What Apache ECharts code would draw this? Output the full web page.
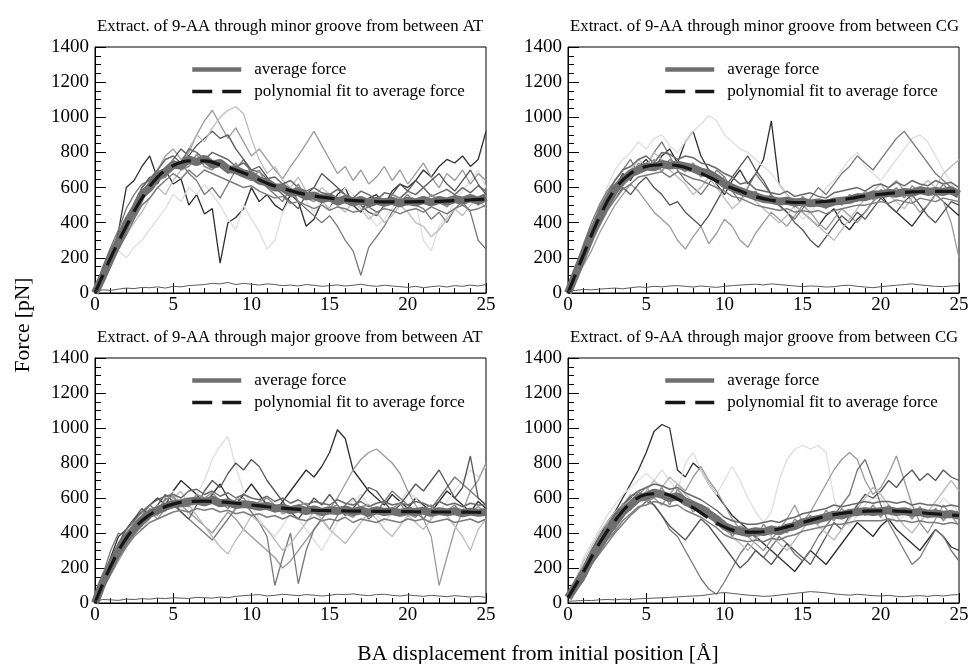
<!DOCTYPE html>
<html>
<head>
<meta charset="utf-8">
<script src="https://cdn.jsdelivr.net/npm/echarts@6/dist/echarts.min.js"></script>
<style>
  html, body { margin: 0; padding: 0; background: #fff; }
  #main { width: 972px; height: 664px; }
</style>
</head>
<body>
<div id="main"></div>
<script>
// sampling positions along the displacement axis [Å]
const xs = [0, 0.5, 1, 1.5, 2, 2.5, 3, 3.5, 4, 4.5, 5, 5.5, 6, 6.5, 7, 7.5, 8, 8.5, 9, 9.5,
  10, 10.5, 11, 11.5, 12, 12.5, 13, 13.5, 14, 14.5, 15, 15.5, 16, 16.5, 17, 17.5, 18, 18.5, 19, 19.5,
  20, 20.5, 21, 21.5, 22, 22.5, 23, 23.5, 24, 24.5, 25]
const fitXs = [0, 1, 2, 3, 4, 5, 6, 7, 8, 9, 10, 11, 12, 13, 14, 15, 16, 17, 18, 19, 20, 21, 22, 23, 24, 25]

const titles = [
  'Extract. of 9-AA through minor groove from between AT',
  'Extract. of 9-AA through minor groove from between CG',
  'Extract. of 9-AA through major groove from between AT',
  'Extract. of 9-AA through major groove from between CG'
]
const legendNames = ['average force', 'polynomial fit to average force']
const xTicks = [0, 5, 10, 15, 20, 25]
const yTicks = [0, 200, 400, 600, 800, 1000, 1200, 1400]

// --- minor groove, AT ---
const runsMinorAT = [
  [0, 80, 200, 350, 600, 640, 720, 780, 650, 700,
    620, 650, 500, 560, 450, 480, 170, 400, 430, 480,
    600, 520, 560, 500, 470, 560, 520, 380, 420, 520,
    480, 560, 600, 500, 460, 540, 560, 500, 580, 620,
    600, 640, 700, 660, 720, 760, 740, 780, 720, 760,
    920],
  [0, 60, 180, 240, 200, 260, 300, 360, 420, 480,
    560, 520, 600, 560, 620, 560, 500, 420, 360, 500,
    420, 350, 250, 300, 460, 540, 580, 520, 460, 520,
    480, 540, 600, 560, 500, 440, 380, 420, 480, 540,
    580, 520, 300, 240, 380, 440, 520, 580, 640, 700,
    600],
  [0, 120, 250, 330, 420, 500, 560, 620, 700, 780,
    820, 760, 800, 900, 980, 1040, 960, 880, 940, 860,
    780, 820, 760, 700, 650, 720, 780, 850, 920, 840,
    760, 680, 720, 640, 700, 620, 660, 720, 640, 700,
    620, 680, 740, 660, 600, 680, 640, 700, 620, 680,
    640],
  [0, 150, 260, 360, 480, 560, 620, 640, 700, 660,
    720, 740, 680, 640, 560, 600, 540, 620, 700, 760,
    680, 640, 600, 560, 520, 600, 520, 480, 440, 400,
    440, 380, 300, 240, 100, 260, 320, 380, 460, 520,
    560, 500, 480, 420, 460, 400, 480, 520, 460, 300,
    250],
  [0, 100, 200, 280, 380, 450, 600, 660, 620, 700,
    760, 820, 780, 840, 880, 920, 880, 900, 820, 760,
    700, 720, 660, 600, 560, 520, 480, 560, 600, 680,
    640, 600, 560, 520, 500, 460, 440, 500, 560, 620,
    580, 640, 600, 640, 680, 620, 580, 640, 700, 620,
    560],
  [0, 70, 160, 260, 330, 400, 460, 540, 600, 560,
    640, 700, 820, 900, 860, 940, 1000, 1040, 1060, 1020,
    880, 760, 680, 720, 640, 600, 660, 580, 540, 600,
    560, 500, 460, 520, 480, 420, 460, 400, 440, 500,
    460, 400, 380, 320, 360, 420, 480, 440, 500, 540,
    480]
]
// runs that stay close to the mean and make up the dense band
const bandMinorAT = [
  [0, 120, 230, 300, 430, 500, 600, 650, 700, 760,
    780, 740, 820, 800, 760, 800, 780, 760, 720, 740,
    700, 690, 650, 660, 620, 640, 600, 580, 600, 570,
    560, 590, 560, 540, 580, 560, 530, 570, 560, 540,
    580, 560, 600, 550, 570, 590, 560, 600, 570, 610,
    580],
  [0, 60, 150, 250, 330, 420, 500, 540, 600, 640,
    680, 650, 700, 660, 700, 680, 660, 640, 620, 600,
    610, 580, 560, 540, 550, 510, 520, 500, 480, 500,
    470, 490, 480, 460, 470, 490, 460, 480, 470, 450,
    470, 480, 460, 490, 470, 450, 480, 500, 470, 480,
    500],
  [0, 150, 160, 320, 380, 450, 540, 620, 640, 660,
    760, 700, 720, 790, 720, 700, 760, 680, 740, 660,
    640, 700, 600, 620, 580, 560, 620, 540, 520, 560,
    540, 500, 560, 520, 500, 540, 520, 490, 560, 540,
    500, 530, 510, 560, 520, 490, 540, 520, 560, 500,
    540]
]
const avgMinorAT = [0, 95, 200, 290, 395, 470, 560, 600, 665, 690,
  730, 725, 760, 745, 765, 730, 740, 705, 700, 680,
  670, 640, 630, 600, 600, 570, 575, 550, 555, 535,
  545, 520, 535, 515, 530, 510, 525, 515, 525, 510,
  525, 515, 530, 515, 530, 520, 535, 525, 540, 525,
  545]
const fitMinorAT = [0, 200, 380, 540, 660, 725, 752, 752, 730, 700, 665, 625, 595,
  570, 552, 540, 530, 524, 520, 519, 519, 520, 522, 526, 530, 535]
const baseMinorAT = [10, 18, 15, 22, 28, 25, 32, 30, 35, 28,
  38, 35, 42, 45, 48, 55, 52, 60, 48, 55,
  50, 45, 52, 48, 42, 45, 40, 48, 44, 38,
  42, 46, 40, 44, 50, 42, 38, 44, 40, 36,
  32, 38, 30, 36, 40, 34, 42, 38, 45, 40,
  48]

// --- minor groove, CG ---
const runsMinorCG = [
  [0, 90, 200, 310, 420, 520, 600, 680, 640, 720,
    760, 700, 780, 820, 740, 860, 920, 780, 700, 620,
    560, 640, 700, 620, 680, 760, 980, 620, 560, 500,
    460, 420, 380, 440, 480, 400, 360, 420, 460, 520,
    560, 500, 460, 420, 380, 440, 500, 560, 520, 480,
    440],
  [0, 130, 260, 380, 480, 600, 700, 760, 800, 860,
    820, 880, 900, 840, 800, 860, 920, 960, 1010, 980,
    900, 860, 820, 800, 760, 720, 680, 620, 560, 480,
    420, 460, 520, 600, 640, 700, 760, 800, 720, 680,
    640, 700, 760, 820, 880, 900, 860, 780, 700, 620,
    560],
  [0, 80, 160, 240, 340, 420, 500, 560, 620, 580,
    520, 460, 420, 380, 300, 250, 320, 380, 280, 340,
    420, 380, 300, 260, 340, 400, 460, 420, 380, 440,
    500, 460, 400, 360, 420, 480, 440, 400, 460, 520,
    560, 600, 640, 580, 520, 460, 500, 560, 520, 400,
    200],
  [0, 150, 280, 400, 500, 580, 640, 700, 760, 680,
    720, 800, 860, 780, 700, 640, 600, 560, 620, 700,
    660, 580, 520, 600, 680, 620, 560, 500, 460, 420,
    480, 540, 600, 560, 620, 680, 720, 780, 740, 700,
    760, 820, 880, 920, 860, 800, 740, 680, 640, 600,
    560],
  [0, 120, 240, 320, 400, 470, 540, 600, 560, 620,
    660, 600, 560, 500, 520, 460, 420, 380, 440, 520,
    600, 660, 720, 780, 700, 640, 560, 500, 460, 400,
    360, 300, 260, 320, 380, 440, 400, 460, 420, 480,
    540, 500, 460, 520, 560, 500, 440, 400, 460, 520,
    500],
  [0, 100, 180, 300, 380, 460, 540, 620, 700, 760,
    720, 800, 760, 700, 660, 620, 560, 600, 660, 600,
    540, 480, 520, 580, 520, 480, 440, 400, 440, 500,
    460, 420, 380, 340, 300, 360, 420, 480, 540, 580,
    620, 560, 520, 480, 540, 600, 640, 600, 680, 720,
    760]
]
const bandMinorCG = [
  [0, 140, 260, 360, 480, 560, 640, 700, 720, 760,
    780, 740, 800, 790, 760, 780, 770, 740, 730, 710,
    680, 660, 620, 630, 590, 580, 570, 560, 580, 550,
    560, 570, 550, 540, 570, 580, 590, 600, 580, 610,
    620, 600, 630, 610, 640, 620, 610, 640, 620, 630,
    600],
  [0, 70, 180, 290, 380, 470, 530, 590, 620, 660,
    670, 680, 690, 660, 690, 670, 650, 640, 620, 600,
    580, 550, 540, 520, 500, 490, 480, 470, 480, 460,
    470, 460, 470, 450, 470, 480, 490, 500, 500, 510,
    520, 510, 530, 520, 510, 540, 530, 520, 540, 530,
    520],
  [0, 160, 200, 370, 400, 540, 560, 660, 650, 740,
    700, 760, 690, 760, 720, 690, 740, 660, 700, 620,
    660, 590, 600, 560, 580, 520, 560, 500, 540, 490,
    550, 500, 530, 480, 540, 500, 560, 520, 580, 530,
    590, 550, 600, 540, 610, 570, 600, 560, 620, 560,
    580]
]
const avgMinorCG = [0, 110, 220, 330, 430, 510, 590, 640, 680, 700,
  720, 715, 735, 725, 730, 720, 710, 690, 680, 655,
  620, 600, 580, 565, 550, 535, 530, 520, 525, 515,
  520, 510, 515, 505, 520, 525, 530, 545, 545, 560,
  560, 570, 565, 575, 570, 585, 575, 580, 575, 585,
  560]
const fitMinorCG = [0, 220, 430, 590, 680, 720, 730, 725, 700, 660, 615, 580, 548,
  528, 518, 515, 518, 526, 538, 552, 562, 570, 575, 578, 579, 578]
const baseMinorCG = [10, 15, 20, 18, 22, 25, 28, 24, 30, 35,
  32, 38, 35, 40, 42, 38, 34, 40, 36, 32,
  38, 42, 45, 48, 50, 46, 52, 48, 44, 40,
  36, 40, 38, 34, 36, 42, 44, 38, 34, 30,
  36, 40, 44, 48, 52, 46, 42, 38, 36, 40,
  42]

// --- major groove, AT ---
const runsMajorAT = [
  [0, 140, 260, 380, 420, 480, 520, 560, 600, 560,
    640, 700, 660, 620, 560, 620, 680, 600, 560, 620,
    680, 620, 560, 520, 580, 640, 700, 760, 720, 780,
    860, 990, 940, 760, 700, 640, 600, 560, 620, 580,
    540, 600, 560, 520, 580, 640, 600, 560, 520, 580,
    540],
  [0, 90, 200, 300, 380, 440, 500, 560, 520, 600,
    640, 560, 500, 620, 700, 820, 900, 950, 780, 640,
    560, 480, 420, 380, 440, 520, 480, 420, 360, 300,
    380, 460, 520, 580, 620, 560, 500, 460, 520, 580,
    640, 600, 540, 480, 520, 580, 640, 700, 760, 720,
    780],
  [0, 80, 160, 240, 320, 400, 460, 520, 480, 540,
    600, 560, 520, 480, 440, 400, 460, 520, 480, 420,
    380, 340, 300, 260, 200, 240, 300, 360, 420, 480,
    540, 600, 680, 760, 820, 860, 880, 840, 800, 740,
    640, 560, 480, 380, 100, 260, 420, 520, 640, 700,
    800],
  [0, 160, 300, 400, 380, 460, 500, 560, 520, 600,
    560, 520, 480, 440, 400, 360, 420, 480, 540, 580,
    520, 460, 380, 100, 260, 400, 110, 300, 420, 480,
    420, 500, 560, 600, 540, 480, 520, 580, 640, 600,
    560, 520, 480, 540, 600, 660, 720, 680, 640, 600,
    560],
  [0, 120, 240, 340, 420, 480, 540, 500, 560, 620,
    580, 520, 480, 560, 640, 700, 660, 740, 800, 760,
    820, 780, 700, 640, 580, 520, 480, 540, 600, 560,
    620, 560, 500, 540, 600, 660, 640, 580, 520, 560,
    620, 680, 640, 700, 760, 680, 600, 660, 840, 600,
    560],
  [0, 100, 220, 320, 400, 460, 420, 480, 560, 520,
    600, 640, 560, 500, 440, 380, 320, 280, 360, 420,
    500, 460, 420, 360, 300, 340, 400, 460, 520, 480,
    420, 380, 340, 400, 460, 520, 480, 420, 380, 440,
    500, 460, 420, 480, 540, 500, 440, 380, 300, 420,
    480]
]
const bandMajorAT = [
  [0, 150, 250, 340, 420, 470, 520, 560, 590, 610,
    620, 600, 640, 650, 620, 640, 610, 630, 600, 620,
    600, 590, 610, 580, 600, 570, 590, 560, 580, 570,
    560, 590, 570, 560, 580, 550, 570, 580, 560, 570,
    560, 580, 570, 550, 580, 560, 570, 550, 570, 560,
    560],
  [0, 80, 170, 260, 320, 380, 420, 460, 480, 500,
    520, 530, 520, 540, 530, 540, 520, 530, 510, 520,
    500, 510, 490, 500, 480, 500, 480, 470, 490, 470,
    480, 470, 490, 460, 480, 470, 460, 480, 470, 460,
    480, 470, 480, 460, 470, 480, 460, 470, 480, 460,
    480],
  [0, 170, 180, 330, 350, 460, 440, 540, 500, 590,
    610, 560, 550, 620, 600, 630, 580, 540, 590, 600,
    540, 580, 600, 560, 510, 530, 560, 570, 520, 500,
    540, 560, 510, 490, 550, 560, 520, 500, 540, 570,
    510, 490, 540, 560, 510, 530, 560, 500, 520, 550,
    520]
]
const avgMajorAT = [0, 120, 210, 300, 370, 420, 470, 510, 530, 550,
  565, 570, 580, 585, 575, 590, 570, 575, 560, 565,
  560, 550, 555, 540, 545, 530, 540, 525, 535, 520,
  530, 525, 535, 520, 530, 515, 530, 520, 525, 515,
  525, 520, 528, 515, 525, 518, 525, 512, 522, 515,
  520]
const fitMajorAT = [0, 210, 370, 470, 530, 565, 580, 582, 578, 570, 560, 550, 542,
  535, 530, 528, 526, 525, 524, 523, 522, 521, 520, 520, 519, 518]
const baseMajorAT = [10, 20, 18, 15, 22, 20, 25, 22, 28, 25,
  30, 28, 26, 32, 30, 28, 34, 30, 38, 42,
  45, 48, 40, 44, 50, 46, 42, 48, 45, 40,
  44, 50, 48, 52, 46, 42, 48, 50, 44, 40,
  46, 42, 38, 44, 40, 36, 42, 38, 34, 38,
  32]

// --- major groove, CG ---
const runsMajorCG = [
  [30, 120, 200, 300, 380, 460, 520, 600, 680, 760,
    860, 980, 1020, 1000, 760, 720, 800, 760, 680, 620,
    560, 500, 460, 420, 380, 340, 300, 260, 220, 180,
    240, 300, 260, 220, 280, 340, 400, 460, 420, 380,
    440, 480, 420, 380, 340, 300, 360, 420, 380, 320,
    300],
  [30, 140, 260, 340, 420, 500, 560, 620, 660, 700,
    740, 700, 760, 700, 640, 800, 860, 760, 680, 620,
    700, 780, 700, 600, 520, 460, 520, 700, 820, 880,
    900, 880, 900, 860, 600, 480, 440, 500, 560, 600,
    600, 520, 460, 500, 560, 520, 480, 540, 600, 560,
    520],
  [30, 100, 180, 260, 340, 420, 480, 540, 580, 620,
    660, 600, 560, 620, 680, 640, 720, 780, 700, 640,
    560, 480, 420, 380, 340, 300, 360, 420, 480, 560,
    460, 520, 600, 680, 760, 820, 860, 820, 700, 620,
    660, 740, 840, 700, 560, 460, 400, 480, 560, 500,
    440],
  [30, 90, 150, 220, 280, 340, 400, 450, 500, 540,
    580, 560, 500, 420, 380, 300, 220, 140, 80, 50,
    120, 200, 280, 340, 300, 260, 320, 380, 340, 280,
    240, 300, 380, 440, 500, 560, 620, 760, 820, 700,
    560, 460, 380, 300, 220, 260, 340, 420, 380, 300,
    240],
  [30, 110, 190, 280, 360, 440, 500, 560, 600, 640,
    600, 560, 500, 440, 400, 360, 420, 480, 440, 380,
    320, 260, 200, 240, 300, 260, 220, 280, 340, 300,
    260, 220, 300, 380, 460, 420, 500, 560, 620, 600,
    640, 700, 660, 720, 760, 700, 740, 700, 760, 720,
    700],
  [30, 130, 240, 320, 400, 460, 520, 560, 620, 580,
    640, 700, 660, 720, 680, 620, 580, 540, 500, 460,
    420, 380, 340, 300, 360, 420, 380, 340, 300, 360,
    420, 480, 440, 400, 360, 420, 480, 540, 600, 660,
    620, 560, 500, 440, 400, 460, 520, 580, 640, 700,
    640]
]
const bandMajorCG = [
  [30, 130, 210, 300, 380, 440, 510, 560, 610, 640,
    660, 680, 670, 650, 660, 630, 610, 590, 560, 530,
    490, 470, 460, 450, 450, 460, 470, 460, 480, 490,
    510, 520, 530, 540, 560, 550, 560, 570, 580, 570,
    580, 580, 570, 580, 560, 570, 560, 560, 550, 560,
    550],
  [30, 70, 130, 220, 290, 360, 410, 470, 510, 550,
    560, 580, 570, 550, 560, 530, 510, 490, 460, 430,
    390, 370, 360, 350, 360, 350, 370, 360, 380, 390,
    410, 420, 430, 440, 450, 450, 460, 470, 470, 470,
    470, 480, 470, 470, 460, 470, 460, 460, 450, 460,
    450],
  [30, 140, 150, 290, 300, 450, 420, 570, 530, 640,
    580, 600, 660, 560, 650, 600, 520, 560, 540, 440,
    470, 380, 440, 420, 370, 450, 390, 440, 400, 480,
    440, 500, 450, 530, 470, 540, 490, 550, 500, 560,
    490, 560, 500, 540, 480, 550, 490, 540, 470, 530,
    490]
]
const avgMajorCG = [30, 100, 170, 260, 330, 400, 460, 520, 560, 600,
  610, 630, 620, 600, 610, 580, 560, 540, 510, 480,
  440, 420, 410, 400, 410, 405, 420, 410, 430, 440,
  460, 470, 480, 490, 505, 500, 515, 520, 525, 520,
  525, 530, 520, 525, 515, 520, 510, 512, 505, 508,
  500]
const fitMajorCG = [30, 180, 340, 470, 570, 620, 625, 595, 545, 485, 435, 408, 405,
  415, 435, 460, 485, 505, 518, 525, 527, 525, 520, 513, 506, 500]
const baseMajorCG = [10, 12, 15, 14, 18, 20, 18, 22, 20, 24,
  26, 28, 30, 32, 35, 38, 40, 42, 48, 55,
  60, 55, 50, 45, 42, 38, 40, 45, 50, 55,
  60, 65, 62, 58, 52, 48, 45, 50, 46, 42,
  40, 44, 38, 36, 40, 42, 38, 44, 40, 46,
  48]

const panels = [
  { runs: runsMinorAT, band: bandMinorAT, avg: avgMinorAT, fit: fitMinorAT, base: baseMinorAT },
  { runs: runsMinorCG, band: bandMinorCG, avg: avgMinorCG, fit: fitMinorCG, base: baseMinorCG },
  { runs: runsMajorAT, band: bandMajorAT, avg: avgMajorAT, fit: fitMajorAT, base: baseMajorAT },
  { runs: runsMajorCG, band: bandMajorCG, avg: avgMajorCG, fit: fitMajorCG, base: baseMajorCG }
]

const FONT = '"Liberation Serif", "Times New Roman", serif'
const runColors = ['#2e2e2e', '#dedede', '#9a9a9a', '#787878', '#555555', '#bcbcbc']
const bandColors = ['#6a6a6a', '#7d7d7d', '#8e8e8e']
const FIT_DASH = [20, 10]

// panel boxes: left/top of each plot area
const boxes = [
  { left: 95, top: 47, height: 246 },
  { left: 568, top: 47, height: 246 },
  { left: 95, top: 358, height: 245 },
  { left: 568, top: 358, height: 245 }
]
const PLOT_W = 391

const pairs = (x, y) => x.map((v, i) => [v, y[i]])

const grids = boxes.map(b => ({
  left: b.left,
  top: b.top,
  width: PLOT_W,
  height: b.height,
  show: true,
  borderColor: '#000',
  borderWidth: 1,
  backgroundColor: 'transparent'
}))

const xAxes = boxes.map((b, i) => ({
  type: 'value',
  gridIndex: i,
  min: xTicks[0],
  max: xTicks[xTicks.length - 1],
  interval: 5,
  axisLine: { show: true, lineStyle: { color: '#000', width: 1 } },
  axisTick: { show: true, inside: true, length: 10, lineStyle: { color: '#000' } },
  minorTick: { show: true, splitNumber: 5, length: 5, lineStyle: { color: '#000' } },
  splitLine: { show: false },
  axisLabel: { color: '#000', fontFamily: FONT, fontSize: 19, margin: 3 }
}))

const yAxes = boxes.map((b, i) => ({
  type: 'value',
  gridIndex: i,
  min: yTicks[0],
  max: yTicks[yTicks.length - 1],
  interval: 200,
  axisLine: { show: true, lineStyle: { color: '#000', width: 1 } },
  axisTick: { show: true, inside: true, length: 11, lineStyle: { color: '#000' } },
  minorTick: { show: true, splitNumber: 4, length: 6, lineStyle: { color: '#000' } },
  splitLine: { show: false },
  axisLabel: { color: '#000', fontFamily: FONT, fontSize: 19, margin: 6, formatter: v => String(v) }
}))

const titleOpts = boxes.map((b, i) => ({
  text: titles[i],
  left: b.left - 3,
  top: b.top - 34,
  textStyle: { fontFamily: FONT, fontSize: 16.8, fontWeight: 'normal', color: '#000' }
}))

const legends = boxes.map(b => ({
  left: b.left + 95,
  top: b.top + 14,
  padding: 0,
  orient: 'vertical',
  itemWidth: 49,
  itemHeight: 14,
  itemGap: 5,
  selectedMode: false,
  data: [
    { name: legendNames[0], itemStyle: { opacity: 0 }, lineStyle: { width: 4.5, color: '#6f6f6f' } },
    { name: legendNames[1], itemStyle: { opacity: 0 }, lineStyle: { width: 3.5, color: '#161616', type: FIT_DASH } }
  ],
  textStyle: { fontFamily: FONT, fontSize: 17, color: '#000', padding: [0, 0, 0, 8] }
}))

const series = []
panels.forEach((p, i) => {
  const thin = (data, color, width) => ({
    type: 'line',
    xAxisIndex: i,
    yAxisIndex: i,
    data: data,
    symbol: 'none',
    silent: true,
    lineStyle: { color: color, width: width },
    z: 2
  })
  p.runs.forEach((run, k) => series.push(thin(pairs(xs, run), runColors[k], 1.3)))
  p.band.forEach((run, k) => series.push(thin(pairs(xs, run), bandColors[k], 1.5)))
  // the mean of all runs, drawn wide so it reads as the dense band
  series.push({
    name: legendNames[0],
    type: 'line',
    xAxisIndex: i,
    yAxisIndex: i,
    data: pairs(xs, p.avg),
    symbol: 'none',
    color: '#6f6f6f',
    lineStyle: { color: '#6f6f6f', width: 8 },
    z: 3
  })
  series.push({
    name: legendNames[1],
    type: 'line',
    xAxisIndex: i,
    yAxisIndex: i,
    data: pairs(fitXs, p.fit),
    smooth: 0.4,
    symbol: 'none',
    color: '#161616',
    lineStyle: { color: '#161616', width: 3.2, type: FIT_DASH },
    z: 4
  })
  series.push(Object.assign(thin(pairs(xs, p.base), '#5a5a5a', 1), { z: 4 }))
})

const chart = echarts.init(document.getElementById('main'), null, { renderer: 'canvas' })
chart.setOption({
  animation: false,
  backgroundColor: '#fff',
  title: titleOpts,
  legend: legends,
  grid: grids,
  xAxis: xAxes,
  yAxis: yAxes,
  series: series,
  graphic: [
    {
      type: 'text',
      x: 23,
      y: 325,
      rotation: Math.PI / 2,
      style: { text: 'Force [pN]', font: '21.5px ' + FONT, fill: '#000', align: 'center', verticalAlign: 'middle' }
    },
    {
      type: 'text',
      x: 538,
      y: 654,
      style: { text: 'BA displacement from initial position [Å]', font: '21.5px ' + FONT, fill: '#000', align: 'center', verticalAlign: 'middle' }
    }
  ]
})
</script>
</body>
</html>
